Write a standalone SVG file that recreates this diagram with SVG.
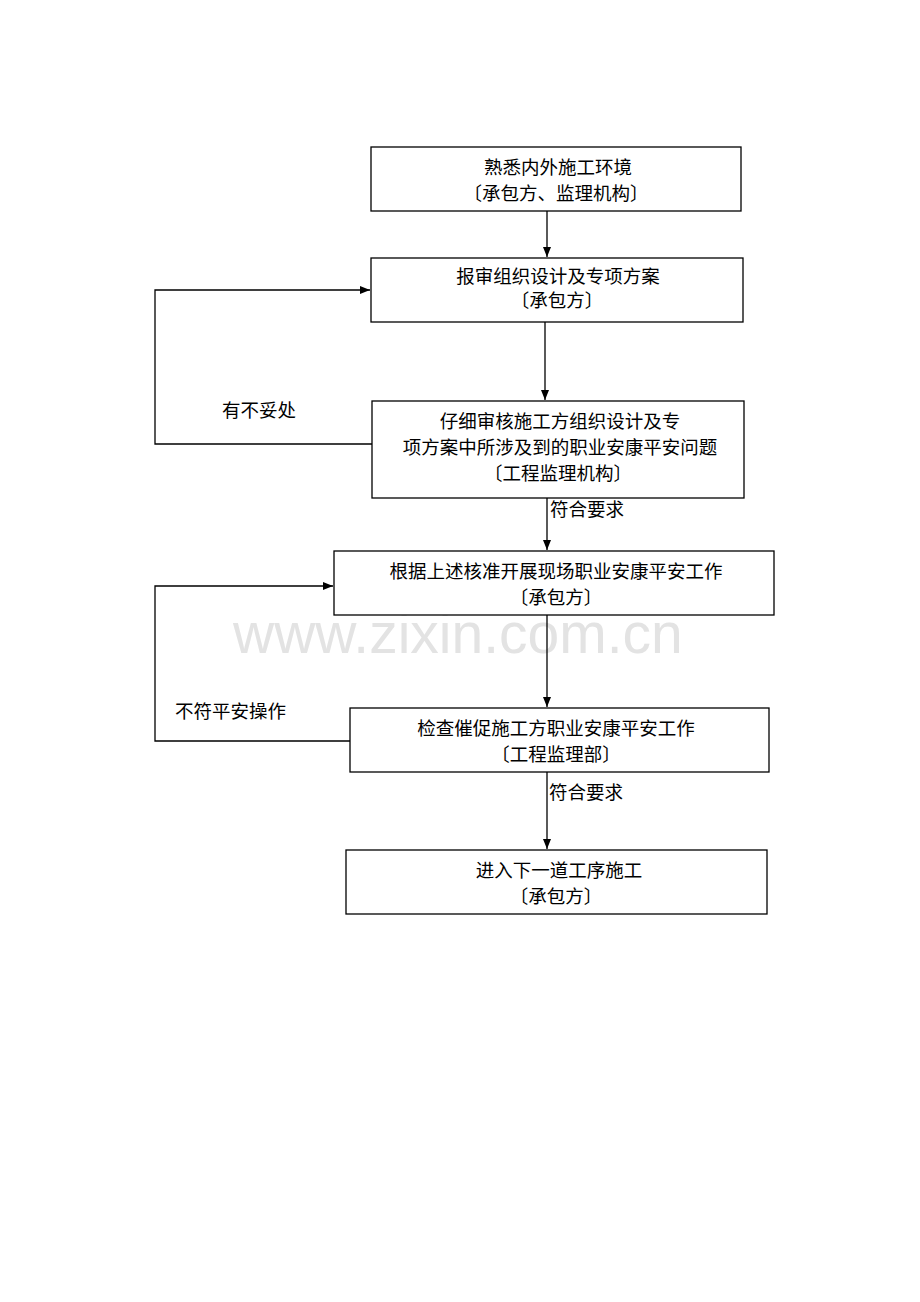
<svg xmlns="http://www.w3.org/2000/svg" width="920" height="1302" viewBox="0 0 920 1302">
<style>
.box{fill:#fff;stroke:#000;stroke-width:1.3}
.t{font-family:"Liberation Serif","Noto Sans CJK SC",serif;font-size:18.5px;fill:#000;text-anchor:middle}
.l{font-family:"Liberation Serif","Noto Sans CJK SC",serif;font-size:18.5px;fill:#000}
.c{fill:none;stroke:#000;stroke-width:1.3}
.wm{font-family:"Liberation Sans",Arial,sans-serif;font-size:57px;fill:#e3e3e3}
</style>
<defs>
<marker id="ah" markerWidth="10" markerHeight="8" refX="10" refY="4" orient="auto" markerUnits="userSpaceOnUse">
<path d="M0,0 L10,4 L0,8 Z" fill="#000"/>
</marker>
</defs>
<rect width="920" height="1302" fill="#fff"/>
<text class="wm" x="233" y="653">www.zixin.com.cn</text>
<g id="connectors">
<line class="c" x1="547" y1="211" x2="547" y2="257" marker-end="url(#ah)"/>
<line class="c" x1="545" y1="322" x2="545" y2="400" marker-end="url(#ah)"/>
<line class="c" x1="547" y1="498" x2="547" y2="550" marker-end="url(#ah)"/>
<line class="c" x1="547" y1="615" x2="547" y2="707" marker-end="url(#ah)"/>
<line class="c" x1="547" y1="772" x2="547" y2="849" marker-end="url(#ah)"/>
<polyline class="c" points="372,444 155,444 155,290 370,290" marker-end="url(#ah)"/>
<polyline class="c" points="350,741 155,741 155,586 333,586" marker-end="url(#ah)"/>
<text class="l" x="222" y="417">有不妥处</text>
<text class="l" x="550" y="516">符合要求</text>
<text class="l" x="175" y="718">不符平安操作</text>
<text class="l" x="549" y="799">符合要求</text>
</g>
<g id="n1">
<rect class="box" x="371" y="147" width="370" height="64"/>
<text class="t" x="558" y="174">熟悉内外施工环境</text>
<text class="t" x="556" y="200">〔承包方、监理机构〕</text>
</g>
<g id="n2">
<rect class="box" x="371" y="258" width="372" height="64"/>
<text class="t" x="558" y="283">报审组织设计及专项方案</text>
<text class="t" x="557" y="307">〔承包方〕</text>
</g>
<g id="n3">
<rect class="box" x="372" y="401" width="372" height="97"/>
<text class="t" x="560" y="428">仔细审核施工方组织设计及专</text>
<text class="t" x="560" y="454">项方案中所涉及到的职业安康平安问题</text>
<text class="t" x="558" y="480">〔工程监理机构〕</text>
</g>
<g id="n4">
<rect class="box" x="334" y="551" width="440" height="64"/>
<text class="t" x="556" y="578">根据上述核准开展现场职业安康平安工作</text>
<text class="t" x="556" y="604">〔承包方〕</text>
</g>
<g id="n5">
<rect class="box" x="350" y="708" width="419" height="64"/>
<text class="t" x="556" y="735">检查催促施工方职业安康平安工作</text>
<text class="t" x="556" y="761">〔工程监理部〕</text>
</g>
<g id="n6">
<rect class="box" x="346" y="850" width="421" height="64"/>
<text class="t" x="559" y="877">进入下一道工序施工</text>
<text class="t" x="556" y="903">〔承包方〕</text>
</g>
</svg>
